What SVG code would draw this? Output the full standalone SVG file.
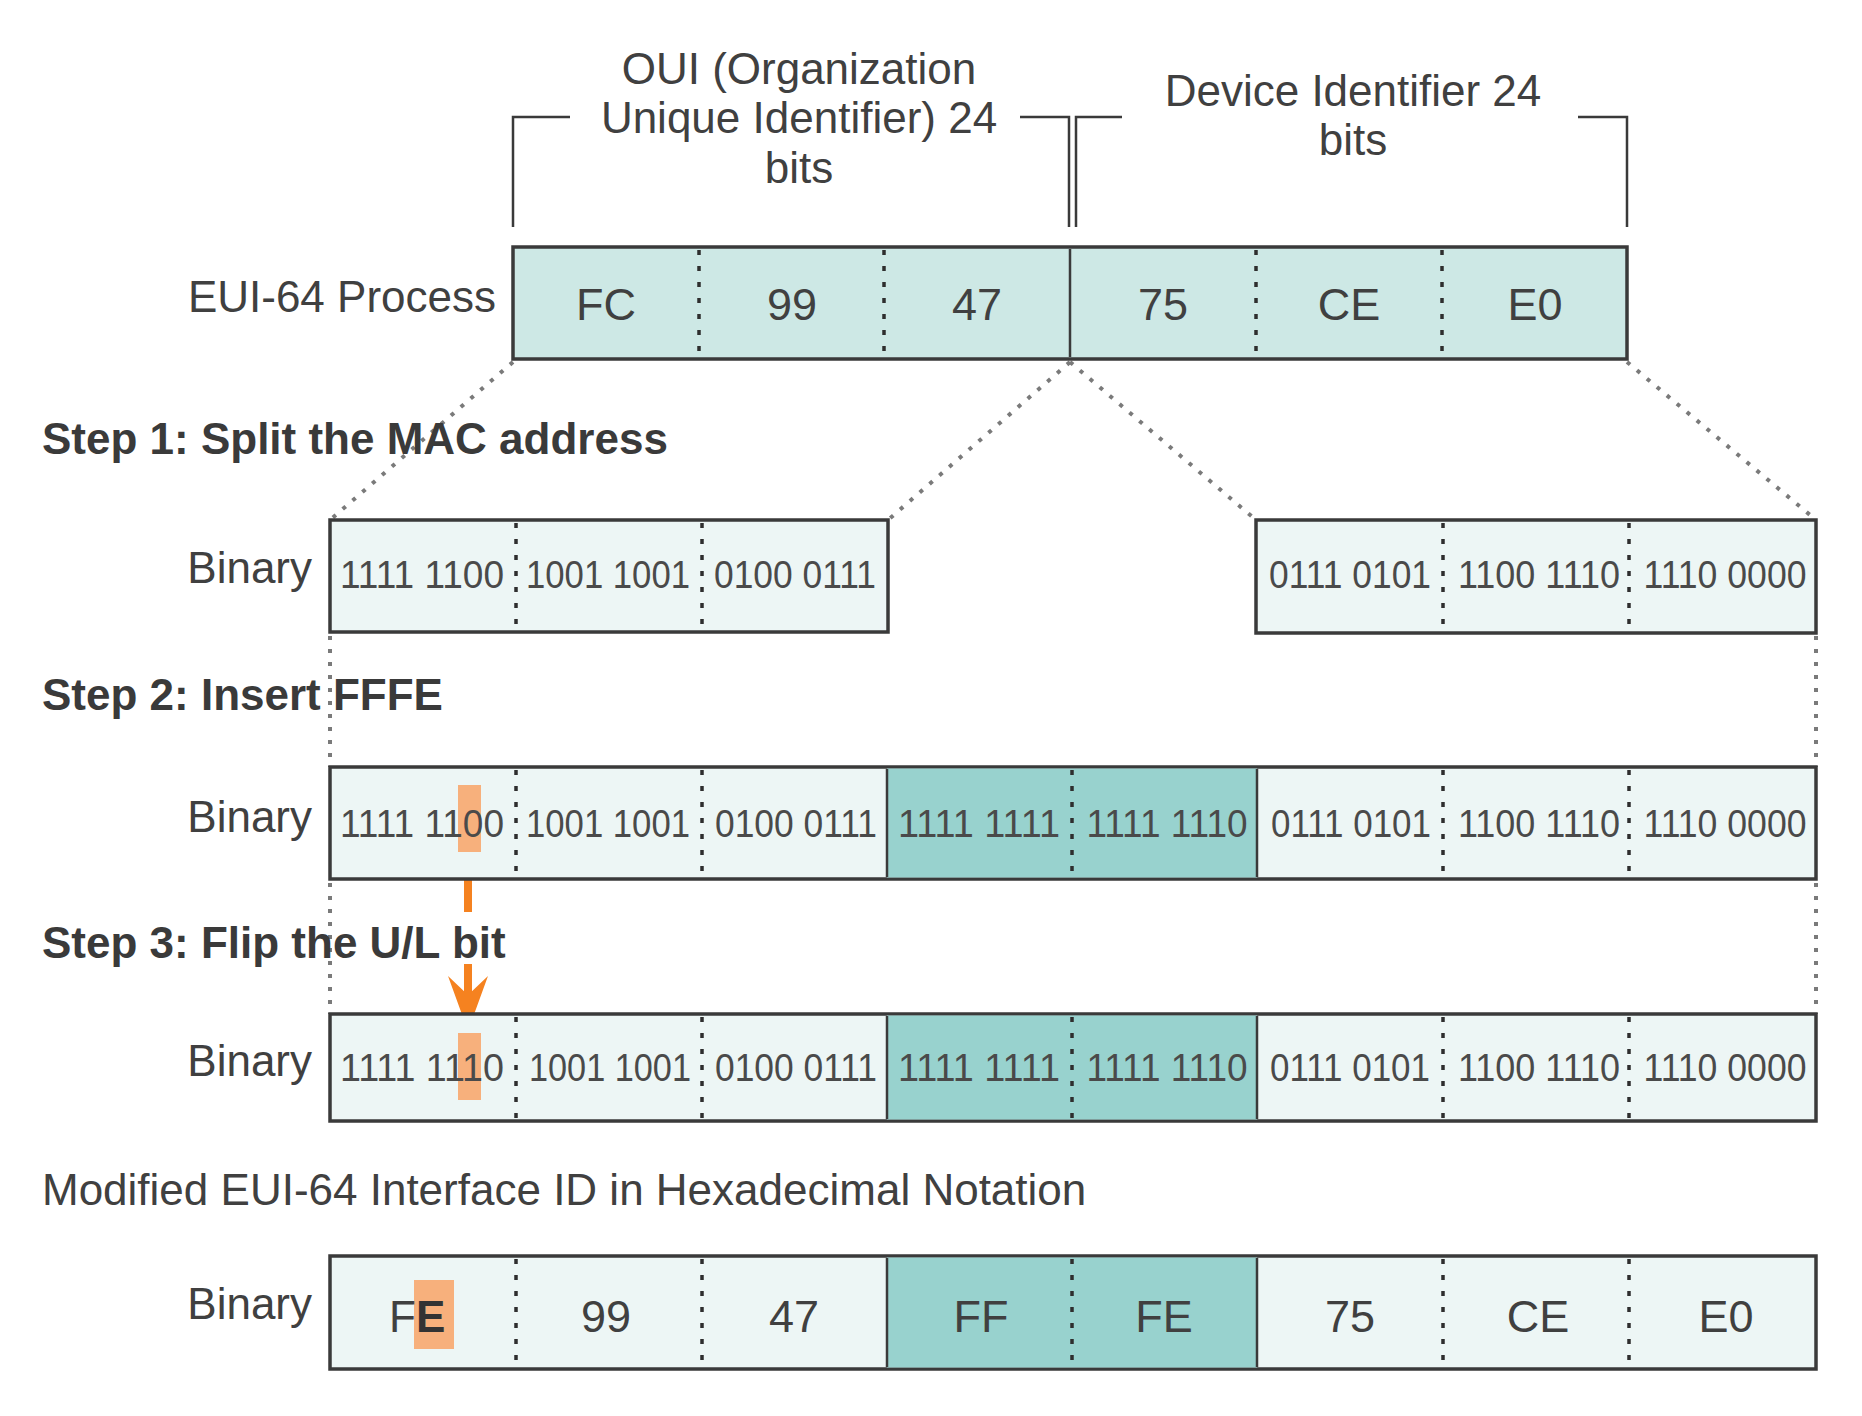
<svg xmlns="http://www.w3.org/2000/svg" width="1862" height="1416" viewBox="0 0 1862 1416">
<defs>
<style>
.bx{stroke:#3a3a3a;stroke-width:3.5}
.ftop{fill:#cde8e5}
.flt{fill:#edf6f5}
.fteal{fill:#98d2ce}
.dv{stroke:#2e2e2e;stroke-width:3.5;stroke-dasharray:5 11;fill:none}
.sd{stroke:#3a3a3a;stroke-width:2.5;fill:none}
.cn{stroke:#7a7a7a;stroke-width:4;stroke-dasharray:4 9;fill:none}
.br{stroke:#3a3a3a;stroke-width:2.5;fill:none}
.t{font-family:"Liberation Sans",Arial,sans-serif;font-size:44px;fill:#404040}
.st{font-weight:bold;fill:#3a3a3a}
.hx{font-size:45px;text-anchor:middle}
.bi{font-size:38px;text-anchor:middle;fill:#4a4a4a}
.hl{fill:#f7b07c}
.or{stroke:#f58220;stroke-width:8;fill:none}
</style>
</defs>
<rect width="1862" height="1416" fill="#ffffff"/>

<g id="connectors">
<path class="br" d="M513 227 V117 H570"/>
<path class="br" d="M1020 117 H1069 V227"/>
<path class="br" d="M1076 227 V117 H1122"/>
<path class="br" d="M1578 117 H1627 V227"/>
<path class="cn" d="M513 362 L330 520"/>
<path class="cn" d="M1070 362 L888 520"/>
<path class="cn" d="M1070 362 L1256 520"/>
<path class="cn" d="M1627 362 L1816 520"/>
<path class="cn" d="M330 636 V767"/>
<path class="cn" d="M1816 636 V767"/>
<path class="cn" d="M330 883 V1014"/>
<path class="cn" d="M1816 883 V1014"/>
<g id="flip-arrow">
<path class="or" d="M468 852 V912 M468 964 V996"/>
<polygon fill="#f58220" points="448,976 468,1031 488,976 468,995"/>
</g>
</g>

<g id="oui-label">
<text class="t" x="799" y="84" text-anchor="middle">OUI (Organization</text>
<text class="t" x="799" y="133" text-anchor="middle">Unique Identifier) 24</text>
<text class="t" x="799" y="183" text-anchor="middle">bits</text>
</g>
<g id="device-label">
<text class="t" x="1353" y="106" text-anchor="middle">Device Identifier 24</text>
<text class="t" x="1353" y="155" text-anchor="middle">bits</text>
</g>

<g id="eui64-process">
<text class="t" x="496" y="312" text-anchor="end">EUI-64 Process</text>
<rect class="bx ftop" x="513" y="247" width="1114" height="112"/>
<line class="dv" x1="699" y1="250" x2="699" y2="357"/>
<line class="dv" x1="884" y1="250" x2="884" y2="357"/>
<line class="sd" x1="1070" y1="249" x2="1070" y2="357"/>
<line class="dv" x1="1256" y1="250" x2="1256" y2="357"/>
<line class="dv" x1="1442" y1="250" x2="1442" y2="357"/>
<text class="t hx" x="606" y="320">FC</text>
<text class="t hx" x="792" y="320">99</text>
<text class="t hx" x="977" y="320">47</text>
<text class="t hx" x="1163" y="320">75</text>
<text class="t hx" x="1349" y="320">CE</text>
<text class="t hx" x="1535" y="320">E0</text>
</g>

<g id="step1">
<text class="t st" x="42" y="454">Step 1: Split the MAC address</text>
<text class="t" x="312" y="583" text-anchor="end">Binary</text>
<g id="step1-oui">
<rect class="bx flt" x="330" y="520" width="558" height="112"/>
<line class="dv" x1="516" y1="523" x2="516" y2="630"/>
<line class="dv" x1="702" y1="523" x2="702" y2="630"/>
<text class="t bi" x="422" y="588" textLength="164" lengthAdjust="spacingAndGlyphs">1111 1100</text>
<text class="t bi" x="608" y="588" textLength="164" lengthAdjust="spacingAndGlyphs">1001 1001</text>
<text class="t bi" x="795" y="588" textLength="162" lengthAdjust="spacingAndGlyphs">0100 0111</text>
</g>
<g id="step1-device">
<rect class="bx flt" x="1256" y="520" width="560" height="113"/>
<line class="dv" x1="1443" y1="523" x2="1443" y2="631"/>
<line class="dv" x1="1629" y1="523" x2="1629" y2="631"/>
<text class="t bi" x="1350" y="588" textLength="162" lengthAdjust="spacingAndGlyphs">0111 0101</text>
<text class="t bi" x="1539" y="588" textLength="162" lengthAdjust="spacingAndGlyphs">1100 1110</text>
<text class="t bi" x="1725" y="588" textLength="163" lengthAdjust="spacingAndGlyphs">1110 0000</text>
</g>
</g>

<g id="step2">
<text class="t st" x="42" y="710">Step 2: Insert FFFE</text>
<text class="t" x="312" y="832" text-anchor="end">Binary</text>
<rect class="bx flt" x="330" y="767" width="1486" height="112"/>
<rect class="fteal" x="887" y="768.5" width="370" height="109"/>
<line class="sd" x1="887" y1="769" x2="887" y2="877"/>
<line class="sd" x1="1257" y1="769" x2="1257" y2="877"/>
<line class="dv" x1="516" y1="770" x2="516" y2="877"/>
<line class="dv" x1="702" y1="770" x2="702" y2="877"/>
<line class="dv" x1="1072" y1="770" x2="1072" y2="877"/>
<line class="dv" x1="1443" y1="770" x2="1443" y2="877"/>
<line class="dv" x1="1629" y1="770" x2="1629" y2="877"/>
<rect class="hl" x="458" y="785" width="23" height="67"/>
<text class="t bi" x="422" y="837" textLength="164" lengthAdjust="spacingAndGlyphs">1111 1100</text>
<text class="t bi" x="608" y="837" textLength="164" lengthAdjust="spacingAndGlyphs">1001 1001</text>
<text class="t bi" x="796" y="837" textLength="162" lengthAdjust="spacingAndGlyphs">0100 0111</text>
<text class="t bi" x="979" y="837" textLength="162" lengthAdjust="spacingAndGlyphs">1111 1111</text>
<text class="t bi" x="1167" y="837" textLength="161" lengthAdjust="spacingAndGlyphs">1111 1110</text>
<text class="t bi" x="1351" y="837" textLength="160" lengthAdjust="spacingAndGlyphs">0111 0101</text>
<text class="t bi" x="1539" y="837" textLength="162" lengthAdjust="spacingAndGlyphs">1100 1110</text>
<text class="t bi" x="1725" y="837" textLength="163" lengthAdjust="spacingAndGlyphs">1110 0000</text>
</g>

<g id="step3">
<text class="t st" x="42" y="958">Step 3: Flip the U/L bit</text>
<text class="t" x="312" y="1076" text-anchor="end">Binary</text>
<rect class="bx flt" x="330" y="1014" width="1486" height="107"/>
<rect class="fteal" x="887" y="1015.5" width="370" height="104"/>
<line class="sd" x1="887" y1="1016" x2="887" y2="1119"/>
<line class="sd" x1="1257" y1="1016" x2="1257" y2="1119"/>
<line class="dv" x1="516" y1="1017" x2="516" y2="1119"/>
<line class="dv" x1="702" y1="1017" x2="702" y2="1119"/>
<line class="dv" x1="1072" y1="1017" x2="1072" y2="1119"/>
<line class="dv" x1="1443" y1="1017" x2="1443" y2="1119"/>
<line class="dv" x1="1629" y1="1017" x2="1629" y2="1119"/>
<rect class="hl" x="458" y="1033" width="23" height="67"/>
<text class="t bi" x="422" y="1081" textLength="164" lengthAdjust="spacingAndGlyphs">1111 1110</text>
<text class="t bi" x="610" y="1081" textLength="162" lengthAdjust="spacingAndGlyphs">1001 1001</text>
<text class="t bi" x="796" y="1081" textLength="162" lengthAdjust="spacingAndGlyphs">0100 0111</text>
<text class="t bi" x="979" y="1081" textLength="162" lengthAdjust="spacingAndGlyphs">1111 1111</text>
<text class="t bi" x="1167" y="1081" textLength="161" lengthAdjust="spacingAndGlyphs">1111 1110</text>
<text class="t bi" x="1350" y="1081" textLength="160" lengthAdjust="spacingAndGlyphs">0111 0101</text>
<text class="t bi" x="1539" y="1081" textLength="162" lengthAdjust="spacingAndGlyphs">1100 1110</text>
<text class="t bi" x="1725" y="1081" textLength="163" lengthAdjust="spacingAndGlyphs">1110 0000</text>
</g>

<g id="modified-eui64">
<text class="t" x="42" y="1205">Modified EUI-64 Interface ID in Hexadecimal Notation</text>
<text class="t" x="312" y="1319" text-anchor="end">Binary</text>
<rect class="bx flt" x="330" y="1256" width="1486" height="113"/>
<rect class="fteal" x="887" y="1257.5" width="370" height="110"/>
<line class="sd" x1="887" y1="1258" x2="887" y2="1367"/>
<line class="sd" x1="1257" y1="1258" x2="1257" y2="1367"/>
<line class="dv" x1="516" y1="1259" x2="516" y2="1367"/>
<line class="dv" x1="702" y1="1259" x2="702" y2="1367"/>
<line class="dv" x1="1072" y1="1259" x2="1072" y2="1367"/>
<line class="dv" x1="1443" y1="1259" x2="1443" y2="1367"/>
<line class="dv" x1="1629" y1="1259" x2="1629" y2="1367"/>
<rect class="hl" x="414" y="1280" width="40" height="69"/>
<text class="t" x="389" y="1332" font-size="45">F<tspan font-weight="bold" fill="#333333">E</tspan></text>
<text class="t hx" x="606" y="1332">99</text>
<text class="t hx" x="794" y="1332">47</text>
<text class="t hx" x="981" y="1332">FF</text>
<text class="t hx" x="1164" y="1332">FE</text>
<text class="t hx" x="1350" y="1332">75</text>
<text class="t hx" x="1538" y="1332">CE</text>
<text class="t hx" x="1726" y="1332">E0</text>
</g>
</svg>
